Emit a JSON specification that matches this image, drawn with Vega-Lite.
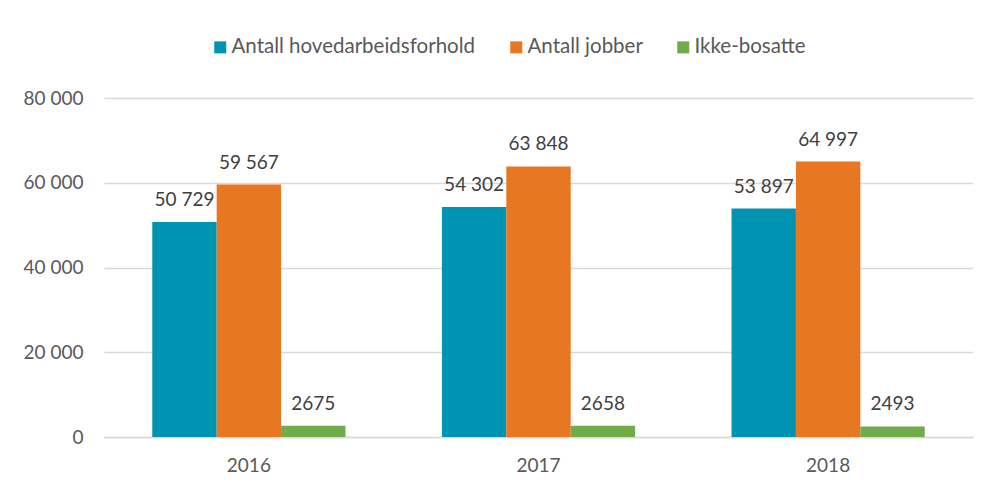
{
  "$schema": "https://vega.github.io/schema/vega-lite/v6.json",
  "width": 869,
  "height": 339,
  "autosize": {"type": "none"},
  "padding": {"left": 104, "top": 98, "right": 18, "bottom": 51},
  "background": "white",
  "config": {
    "view": {"stroke": null},
    "font": "Lato",
    "axis": {"labelFont": "Lato", "labelColor": "#595959", "labelFontSize": 19}
  },
  "data": {
    "values": [
      {"year": "2016", "series": "Antall hovedarbeidsforhold", "value": 50729, "label": "50 729"},
      {"year": "2016", "series": "Antall jobber", "value": 59567, "label": "59 567"},
      {"year": "2016", "series": "Ikke-bosatte", "value": 2675, "label": "2675"},
      {"year": "2017", "series": "Antall hovedarbeidsforhold", "value": 54302, "label": "54 302"},
      {"year": "2017", "series": "Antall jobber", "value": 63848, "label": "63 848"},
      {"year": "2017", "series": "Ikke-bosatte", "value": 2658, "label": "2658"},
      {"year": "2018", "series": "Antall hovedarbeidsforhold", "value": 53897, "label": "53 897"},
      {"year": "2018", "series": "Antall jobber", "value": 64997, "label": "64 997"},
      {"year": "2018", "series": "Ikke-bosatte", "value": 2493, "label": "2493"}
    ]
  },
  "encoding": {
    "x": {
      "field": "year", "type": "nominal", "title": null,
      "scale": {"paddingInner": 0.333, "paddingOuter": 0.1667},
      "axis": {"labelAngle": 0, "ticks": false, "domainColor": "#d9d9d9", "domainWidth": 1.5, "labelPadding": 19, "grid": false}
    },
    "xOffset": {
      "field": "series", "type": "nominal",
      "sort": ["Antall hovedarbeidsforhold", "Antall jobber", "Ikke-bosatte"],
      "scale": {"paddingInner": 0, "paddingOuter": 0}
    },
    "y": {
      "field": "value", "type": "quantitative", "title": null,
      "scale": {"domain": [0, 80000], "nice": false},
      "axis": {
        "values": [0, 20000, 40000, 60000, 80000],
        "labelExpr": "replace(format(datum.value, ','), ',', ' ')",
        "ticks": false, "domain": false, "gridColor": "#d9d9d9", "gridWidth": 1.5, "labelPadding": 21
      }
    }
  },
  "layer": [
    {
      "mark": {"type": "bar"},
      "encoding": {
        "color": {
          "field": "series", "type": "nominal",
          "sort": ["Antall hovedarbeidsforhold", "Antall jobber", "Ikke-bosatte"],
          "scale": {"domain": ["Antall hovedarbeidsforhold", "Antall jobber", "Ikke-bosatte"], "range": ["#0093b2", "#e87722", "#71ab4c"]},
          "legend": {
            "title": null, "orient": "none", "direction": "horizontal",
            "legendX": 106, "legendY": -61,
            "symbolType": "square", "symbolSize": 144, "symbolStrokeWidth": 0,
            "labelFont": "Lato", "labelFontSize": 20.5, "labelColor": "#595959",
            "labelOffset": 1, "columnPadding": 30, "labelLimit": 400
          }
        }
      }
    },
    {
      "mark": {"type": "text", "baseline": "bottom", "dy": -12, "font": "Lato", "fontSize": 19, "color": "#404040"},
      "encoding": {
        "text": {"field": "label"},
        "detail": {"field": "series"}
      }
    }
  ]
}
